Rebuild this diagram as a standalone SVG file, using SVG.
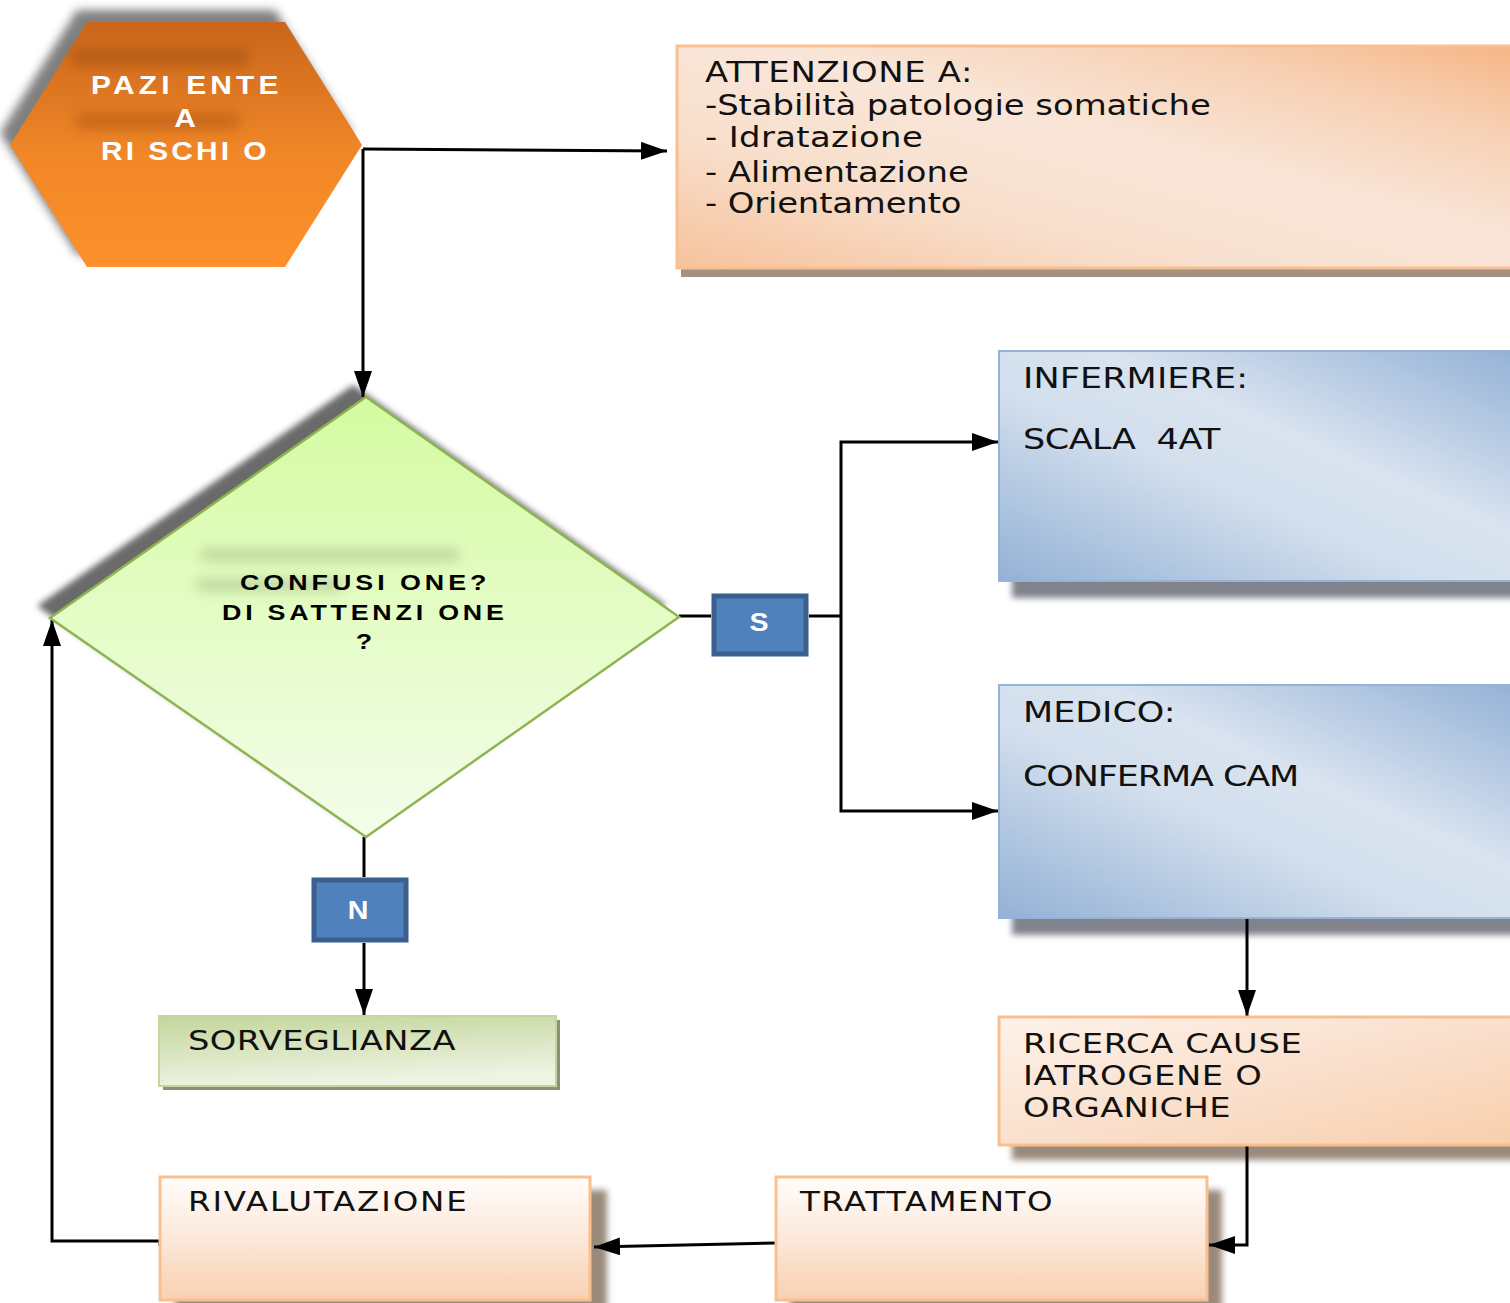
<svg xmlns="http://www.w3.org/2000/svg" width="1510" height="1303" viewBox="0 0 1510 1303">
<defs>
<style>
.box{font-family:"DejaVu Sans","Verdana",sans-serif;fill:#111;}
.bold{font-family:"Liberation Sans",Arial,sans-serif;font-weight:bold;}
.wh{fill:#fff;}
.conn{fill:none;stroke:#000;stroke-width:3;}
</style>
<filter id="blur3" x="-10%" y="-10%" width="120%" height="120%"><feGaussianBlur stdDeviation="3"/></filter>
<filter id="blur5" x="-20%" y="-20%" width="140%" height="140%"><feGaussianBlur stdDeviation="5"/></filter>
<filter id="blur8" x="-30%" y="-100%" width="160%" height="300%"><feGaussianBlur stdDeviation="6"/></filter>
<marker id="arr" markerUnits="userSpaceOnUse" markerWidth="26" markerHeight="18" refX="26" refY="9" orient="auto">
<path d="M0,0 L26,9 L0,18 z" fill="#000"/>
</marker>
<linearGradient id="gHex" x1="0" y1="0" x2="0" y2="1">
<stop offset="0" stop-color="#c9661c"/><stop offset="0.55" stop-color="#f18727"/><stop offset="1" stop-color="#fd902c"/>
</linearGradient>
<linearGradient id="gDia" x1="0" y1="0" x2="0" y2="1">
<stop offset="0" stop-color="#d4fba0"/><stop offset="1" stop-color="#f4fdeb"/>
</linearGradient>
<linearGradient id="gPeach" x1="0" y1="1" x2="1" y2="0">
<stop offset="0" stop-color="#f7c29c"/><stop offset="0.3" stop-color="#f8dfcc"/><stop offset="0.55" stop-color="#f9e6d9"/><stop offset="0.8" stop-color="#f7d0b3"/><stop offset="1" stop-color="#f6b585"/>
</linearGradient>
<linearGradient id="gBlue" x1="0" y1="1" x2="1" y2="0">
<stop offset="0" stop-color="#93b1d6"/><stop offset="0.42" stop-color="#d3dfed"/><stop offset="0.6" stop-color="#d9e3f0"/><stop offset="1" stop-color="#93b1d6"/>
</linearGradient>
<linearGradient id="gRic" x1="0" y1="0" x2="1" y2="1">
<stop offset="0" stop-color="#fdf2ea"/><stop offset="0.5" stop-color="#fae0cd"/><stop offset="1" stop-color="#f9ceab"/>
</linearGradient>
<linearGradient id="gLow" x1="0" y1="0" x2="0" y2="1">
<stop offset="0" stop-color="#fffdfb"/><stop offset="0.5" stop-color="#fce8da"/><stop offset="1" stop-color="#f9d0b0"/>
</linearGradient>
<linearGradient id="gGreen" x1="0" y1="0" x2="0.25" y2="1">
<stop offset="0" stop-color="#c3d69b"/><stop offset="1" stop-color="#eef3e3"/>
</linearGradient>
</defs>

<g id="shadows">
<polygon points="77,10 275,10 352,133 275,255 77,255 0,133" fill="#555" opacity="0.75" filter="url(#blur5)"/>
<polygon points="353,385 666,605 353,825 37,606" fill="#5a5a5a" opacity="0.9" filter="url(#blur3)"/>
<rect x="681" y="54" width="840" height="223" fill="#a39181"/>
<rect x="1012" y="362" width="510" height="236" fill="#80838b" filter="url(#blur3)"/>
<rect x="1012" y="697" width="510" height="238" fill="#80838b" filter="url(#blur3)"/>
<rect x="1012" y="1030" width="510" height="130" fill="#9a8a7c" filter="url(#blur3)"/>
<rect x="790" y="1190" width="432" height="120" fill="#9a8a7c" filter="url(#blur3)"/>
<rect x="175" y="1190" width="432" height="120" fill="#9a8a7c" filter="url(#blur3)"/>
<rect x="163" y="1020" width="397" height="70" fill="#8c9079"/>
</g>

<g id="connectors">
<path class="conn" d="M363,149 L667,151" marker-end="url(#arr)"/>
<path class="conn" d="M363,149 L363,397" marker-end="url(#arr)"/>
<path class="conn" d="M679,616 L711,616"/>
<path class="conn" d="M809,616 L841,616"/>
<path class="conn" d="M841,616 L841,442 L998,442" marker-end="url(#arr)"/>
<path class="conn" d="M841,616 L841,811 L998,811" marker-end="url(#arr)"/>
<path class="conn" d="M364,837 L364,877"/>
<path class="conn" d="M364,943 L364,1015" marker-end="url(#arr)"/>
<path class="conn" d="M1247,918 L1247,1016" marker-end="url(#arr)"/>
<path class="conn" d="M1247,1145 L1247,1245 L1209,1245" marker-end="url(#arr)"/>
<path class="conn" d="M776,1243 L594,1247" marker-end="url(#arr)"/>
<path class="conn" d="M160,1246 L160,1241 L52,1241 L52,620" marker-end="url(#arr)"/>
</g>

<g id="paziente">
<polygon points="87,22 285,22 362,145 285,267 87,267 10,145" fill="url(#gHex)"/>
<rect x="70" y="48" width="180" height="18" rx="9" fill="#9a4a10" opacity="0.45" filter="url(#blur8)"/>
<rect x="75" y="113" width="165" height="16" rx="8" fill="#9a4a10" opacity="0.4" filter="url(#blur8)"/>
<text class="bold wh" transform="translate(91 0) scale(1.15 1)" x="0" y="94" font-size="26" textLength="163" lengthAdjust="spacing">PAZI ENTE</text>
<text class="bold wh" transform="translate(185 0) scale(1.15 1)" x="0" y="127" font-size="26" text-anchor="middle">A</text>
<text class="bold wh" transform="translate(101 0) scale(1.15 1)" x="0" y="160" font-size="26" textLength="144" lengthAdjust="spacing">RI SCHI O</text>
</g>

<g id="attenzione">
<rect x="677" y="46" width="840" height="222" fill="url(#gPeach)" stroke="#f9bf8f" stroke-width="3"/>
<text class="box" transform="translate(705 0) scale(1.21 1)" x="0" y="82" font-size="28" textLength="221" lengthAdjust="spacing">ATTENZIONE A:</text>
<text class="box" transform="translate(705 0) scale(1.21 1)" x="0" y="115" font-size="28" textLength="418" lengthAdjust="spacing">-Stabilità patologie somatiche</text>
<text class="box" transform="translate(705 0) scale(1.21 1)" x="0" y="147" font-size="28" textLength="180" lengthAdjust="spacing">- Idratazione</text>
<text class="box" transform="translate(705 0) scale(1.21 1)" x="0" y="182" font-size="28" textLength="218" lengthAdjust="spacing">- Alimentazione</text>
<text class="box" transform="translate(705 0) scale(1.21 1)" x="0" y="213" font-size="28" textLength="212" lengthAdjust="spacing">- Orientamento</text>
</g>

<g id="decisione">
<polygon points="366,397 679,617 366,837 50,618" fill="url(#gDia)" stroke="#8eb452" stroke-width="2.5"/>
<rect x="200" y="548" width="260" height="14" rx="7" fill="#7a9060" opacity="0.3" filter="url(#blur8)"/>
<rect x="195" y="578" width="150" height="14" rx="7" fill="#7a9060" opacity="0.3" filter="url(#blur8)"/>
<text class="bold" transform="translate(240 0) scale(1.22 1)" x="0" y="590" font-size="22" textLength="202" lengthAdjust="spacing">CONFUSI ONE?</text>
<text class="bold" transform="translate(222 0) scale(1.22 1)" x="0" y="620" font-size="22" textLength="231" lengthAdjust="spacing">DI SATTENZI ONE</text>
<text class="bold" transform="translate(364 0) scale(1.22 1)" x="0" y="649" font-size="22" text-anchor="middle">?</text>
</g>

<g id="si">
<rect x="714" y="596" width="92" height="58" fill="#4f81bd" stroke="#3b5f8e" stroke-width="5"/>
<text class="bold wh" transform="translate(759 0) scale(1.1 1)" x="0" y="631" font-size="26" text-anchor="middle">S</text>
</g>

<g id="no">
<rect x="314" y="880" width="92" height="60" fill="#4f81bd" stroke="#3b5f8e" stroke-width="5"/>
<text class="bold wh" transform="translate(358 0) scale(1.1 1)" x="0" y="919" font-size="26" text-anchor="middle">N</text>
</g>

<g id="infermiere">
<rect x="999" y="351" width="520" height="230" fill="url(#gBlue)" stroke="#95b3d7" stroke-width="2"/>
<text class="box" transform="translate(1023 0) scale(1.25 1)" x="0" y="388" font-size="28" textLength="180" lengthAdjust="spacing">INFERMIERE:</text>
<text class="box" xml:space="preserve" transform="translate(1023 0) scale(1.25 1)" x="0" y="449" font-size="28" textLength="158" lengthAdjust="spacing">SCALA  4AT</text>
</g>

<g id="medico">
<rect x="999" y="685" width="520" height="233" fill="url(#gBlue)" stroke="#95b3d7" stroke-width="2"/>
<text class="box" transform="translate(1023 0) scale(1.25 1)" x="0" y="722" font-size="28" textLength="122" lengthAdjust="spacing">MEDICO:</text>
<text class="box" transform="translate(1023 0) scale(1.25 1)" x="0" y="786" font-size="28" textLength="221" lengthAdjust="spacing">CONFERMA CAM</text>
</g>

<g id="ricerca">
<rect x="999" y="1017" width="520" height="128" fill="url(#gRic)" stroke="#f9bf8f" stroke-width="3"/>
<text class="box" transform="translate(1023 0) scale(1.25 1)" x="0" y="1053" font-size="27" textLength="223" lengthAdjust="spacing">RICERCA CAUSE</text>
<text class="box" transform="translate(1023 0) scale(1.25 1)" x="0" y="1085" font-size="27" textLength="191" lengthAdjust="spacing">IATROGENE O</text>
<text class="box" transform="translate(1023 0) scale(1.25 1)" x="0" y="1117" font-size="27" textLength="166" lengthAdjust="spacing">ORGANICHE</text>
</g>

<g id="sorveglianza">
<rect x="159" y="1016" width="397" height="70" fill="url(#gGreen)" stroke="#c3d69b" stroke-width="2"/>
<text class="box" transform="translate(188 0) scale(1.25 1)" x="0" y="1050" font-size="27" textLength="214" lengthAdjust="spacing">SORVEGLIANZA</text>
</g>

<g id="trattamento">
<rect x="776" y="1177" width="431" height="123" fill="url(#gLow)" stroke="#f9bf8f" stroke-width="3"/>
<text class="box" transform="translate(800 0) scale(1.25 1)" x="0" y="1211" font-size="26" textLength="202" lengthAdjust="spacing">TRATTAMENTO</text>
</g>

<g id="rivalutazione">
<rect x="160" y="1177" width="430" height="123" fill="url(#gLow)" stroke="#f9bf8f" stroke-width="3"/>
<text class="box" transform="translate(188 0) scale(1.25 1)" x="0" y="1211" font-size="26" textLength="223" lengthAdjust="spacing">RIVALUTAZIONE</text>
</g>
</svg>
